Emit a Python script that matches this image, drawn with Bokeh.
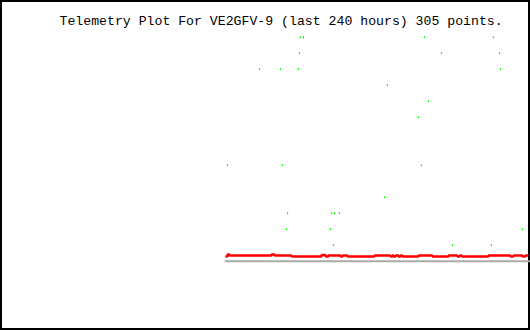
from bokeh.plotting import figure
from bokeh.models import Range1d, Label, ColumnDataSource
from bokeh.embed import file_html
from bokeh.resources import INLINE

title_text = "Telemetry Plot For VE2GFV-9 (last 240 hours) 305 points."

# Green channel: sparse readings (hours ago, value)
green_hours = [-104.2, -102.8, -48.0, -16.8,
               -104.6, -40.3, -14.0,
               -122.7, -113.2, -105.1, -13.6,
               -64.8,
               -46.2,
               -50.7,
               -137.2, -112.3, -49.4,
               -66.1,
               -110.0, -90.1, -88.8, -86.5,
               -110.5, -90.6, -3.6,
               -89.2, -35.3, -17.7]
green_values = [14, 14, 14, 14,
                13, 13, 13,
                12, 12, 12, 12,
                11,
                10,
                9,
                6, 6, 6,
                4,
                3, 3, 3, 3,
                2, 2, 2,
                1, 1, 1]

# Red channel: step changes (hours ago, value)
red_hours = [-138.1, -137.2, -136.3, -117.3, -115.9, -108.2, -94.6, -92.8,
             -91.5, -86.0, -85.1, -82.9, -70.6, -63.4, -62.5, -62.0, -61.1,
             -59.8, -58.9, -58.0, -50.7, -44.4, -37.1, -33.1, -32.1, -31.2,
             -19.0, -9.1, -7.7, -3.6, -2.3, -0.9]
red_values = [0.29, 0.42, 0.36, 0.42, 0.36, 0.29, 0.39, 0.29,
              0.36, 0.29, 0.36, 0.29, 0.36, 0.29, 0.36, 0.29, 0.36,
              0.29, 0.36, 0.29, 0.36, 0.29, 0.36, 0.29, 0.36, 0.29,
              0.36, 0.29, 0.36, 0.29, 0.36, 0.36]

# Gray channel: constant zero
gray_hours = [-138.5, 0.0]
gray_values = [0.0, 0.0]

p = figure(width=530, height=330, output_backend="svg", toolbar_location=None,
           x_axis_type=None, y_axis_type=None, min_border=0,
           x_range=Range1d(-240, 0), y_range=Range1d(-4.33, 16.29))
p.grid.visible = False
p.background_fill_color = "white"
p.border_fill_color = "white"
p.outline_line_color = "black"
p.outline_line_width = 3

p.line(gray_hours, gray_values, line_color="#aaaaaa", line_width=2)
p.step(red_hours, red_values, mode="after", line_color="#ff0000", line_width=2.5)

src = ColumnDataSource(dict(x=green_hours, y=green_values))
p.rect("x", "y", width=1.2, height=2, width_units="screen", height_units="screen",
       fill_color="#00ff00", line_color=None, source=src)

p.add_layout(Label(x=59, y=309, x_units="screen", y_units="screen", text=title_text,
                   text_font="Liberation Mono", text_font_size="13.2px",
                   text_color="black", text_baseline="alphabetic"))

open("out.html", "w").write(file_html(p, INLINE))
